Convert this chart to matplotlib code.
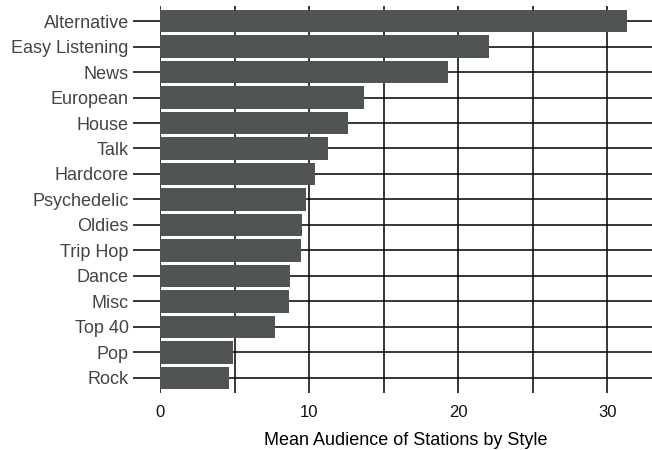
import matplotlib
matplotlib.use("Agg")
import matplotlib.pyplot as plt
from matplotlib.ticker import MultipleLocator

plt.rcParams['font.family'] = ['Liberation Sans', 'DejaVu Sans']

styles = ["Alternative", "Easy Listening", "News", "European", "House", "Talk",
          "Hardcore", "Psychedelic", "Oldies", "Trip Hop", "Dance", "Misc",
          "Top 40", "Pop", "Rock"]
audience = [31.35, 22.05, 19.3, 13.65, 12.6, 11.3, 10.4, 9.8, 9.5, 9.45,
            8.7, 8.65, 7.7, 4.9, 4.6]


def main():
    fig = plt.figure(figsize=(6.52, 4.5), dpi=100)
    ax = fig.add_axes([0.2454, 0.1267, 0.7546, 0.86])

    pos = list(range(len(styles)))[::-1]
    ax.barh(pos, audience, height=0.89, color="#515455", zorder=3)

    ax.set_xlim(0, 33.0)
    ax.set_ylim(-0.59, len(styles) - 1 + 0.59)
    ax.set_yticks(pos)
    ax.set_yticklabels(styles, color="#444444", fontsize=13)
    ax.xaxis.set_major_locator(MultipleLocator(10))
    ax.xaxis.set_minor_locator(MultipleLocator(5))

    ax.grid(True, axis="x", which="both", color="black", linewidth=1.1, zorder=1)
    ax.grid(True, axis="y", color="black", linewidth=1.1, zorder=1)

    for s in ax.spines.values():
        s.set_visible(False)
    ax.tick_params(axis="y", length=19.5, width=1.1, pad=3, color="black")
    ax.tick_params(axis="x", which="both", length=0, pad=9, labelsize=12, labelcolor="#111111")

    ax.set_xlabel("Mean Audience of Stations by Style", fontsize=13, labelpad=8)

    fig.savefig("out.png", dpi=100)


if __name__ == "__main__":
    main()
